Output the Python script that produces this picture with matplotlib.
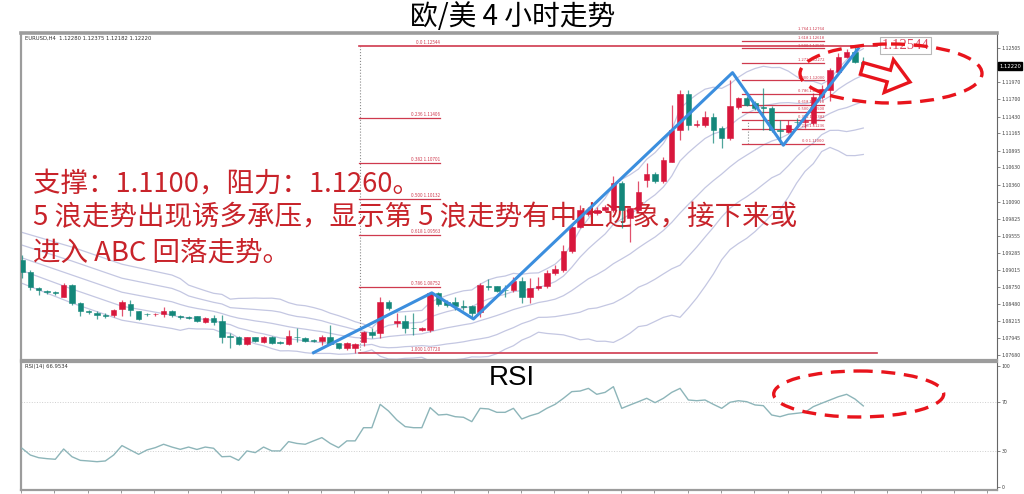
import numpy as np
import pandas as pd
import matplotlib
matplotlib.use("Agg")
import matplotlib.pyplot as plt
from matplotlib.patches import Ellipse, Polygon

plt.rcParams['font.family'] = ['Noto Sans CJK SC', 'DejaVu Sans']

# ---- data (EURUSD H4) ----
opens = [1.0918, 1.0899, 1.0874, 1.0869, 1.0867, 1.0860, 1.0878, 1.0850, 1.0837, 1.0835,
         1.0831, 1.0831, 1.0841, 1.0849, 1.0837, 1.0833, 1.0832, 1.0833, 1.0838, 1.0829,
         1.0828, 1.0829, 1.0820, 1.0826, 1.0822, 1.0798, 1.0797, 1.0786, 1.0796, 1.0788,
         1.0797, 1.0788, 1.0786, 1.0797, 1.0795, 1.0792, 1.0791, 1.0797, 1.0787, 1.0779,
         1.0779, 1.0788, 1.0805, 1.0803, 1.0852, 1.0818, 1.0822, 1.0811, 1.0808, 1.0808,
         1.0865, 1.0852, 1.0852, 1.0845, 1.0845, 1.0836, 1.0876, 1.0876, 1.0871, 1.0871,
         1.0884, 1.0860, 1.0873, 1.0876, 1.0897, 1.0902, 1.0931, 1.0970, 1.0990, 1.0991,
         1.0996, 1.0996, 1.1038, 1.0983, 1.0996, 1.1044, 1.1053, 1.1041, 1.1072, 1.1122,
         1.1179, 1.1130, 1.1130, 1.1143, 1.1125, 1.1109, 1.1158, 1.1172, 1.1165, 1.1158,
         1.1156, 1.1122, 1.1119, 1.1135, 1.1135, 1.1133, 1.1174, 1.1185, 1.1213, 1.1237,
         1.1245, 1.1228]
highs = [1.0926, 1.0902, 1.0875, 1.0871, 1.0869, 1.0882, 1.0880, 1.0852, 1.0839, 1.0838,
         1.0834, 1.0841, 1.0855, 1.0855, 1.0838, 1.0834, 1.0835, 1.0844, 1.0839, 1.0831,
         1.0830, 1.0830, 1.0828, 1.0831, 1.0831, 1.0803, 1.0798, 1.0797, 1.0797, 1.0798,
         1.0798, 1.0790, 1.0808, 1.0811, 1.0797, 1.0794, 1.0800, 1.0816, 1.0787, 1.0789,
         1.0787, 1.0806, 1.0811, 1.0859, 1.0855, 1.0834, 1.0831, 1.0834, 1.0812, 1.0867,
         1.0867, 1.0855, 1.0859, 1.0855, 1.0847, 1.0882, 1.0888, 1.0877, 1.0878, 1.0891,
         1.0891, 1.0889, 1.0891, 1.0902, 1.0910, 1.0941, 1.0976, 1.1004, 1.1001, 1.1001,
         1.1004, 1.1049, 1.1041, 1.1001, 1.1041, 1.1070, 1.1056, 1.1080, 1.1161, 1.1185,
         1.1185, 1.1138, 1.1151, 1.1149, 1.1128, 1.1200, 1.1174, 1.1175, 1.1167, 1.1188,
         1.1160, 1.1138, 1.1138, 1.1141, 1.1146, 1.1180, 1.1192, 1.1220, 1.1243, 1.1249,
         1.1254, 1.1237]
lows = [1.0889, 1.0871, 1.0863, 1.0864, 1.0863, 1.0859, 1.0847, 1.0830, 1.0833, 1.0825,
        1.0827, 1.0828, 1.0830, 1.0830, 1.0823, 1.0830, 1.0830, 1.0828, 1.0828, 1.0825,
        1.0825, 1.0820, 1.0819, 1.0816, 1.0787, 1.0779, 1.0784, 1.0784, 1.0789, 1.0787,
        1.0786, 1.0786, 1.0784, 1.0789, 1.0789, 1.0789, 1.0784, 1.0784, 1.0778, 1.0776,
        1.0772, 1.0783, 1.0795, 1.0795, 1.0839, 1.0812, 1.0803, 1.0800, 1.0806, 1.0805,
        1.0845, 1.0844, 1.0839, 1.0839, 1.0828, 1.0828, 1.0871, 1.0868, 1.0859, 1.0867,
        1.0850, 1.0850, 1.0871, 1.0874, 1.0894, 1.0899, 1.0929, 1.0968, 1.0987, 1.0988,
        1.0993, 1.0993, 1.0968, 1.0946, 1.0993, 1.1033, 1.1039, 1.1039, 1.1071, 1.1106,
        1.1122, 1.1126, 1.1126, 1.1102, 1.1093, 1.1106, 1.1155, 1.1160, 1.1153, 1.1122,
        1.1119, 1.1100, 1.1117, 1.1125, 1.1125, 1.1130, 1.1171, 1.1167, 1.1211, 1.1235,
        1.1227, 1.1218]
closes = [1.0899, 1.0875, 1.0870, 1.0867, 1.0866, 1.0878, 1.0850, 1.0837, 1.0836, 1.0831,
          1.0830, 1.0839, 1.0851, 1.0839, 1.0825, 1.0832, 1.0833, 1.0838, 1.0831, 1.0828,
          1.0827, 1.0822, 1.0826, 1.0820, 1.0797, 1.0797, 1.0786, 1.0796, 1.0790, 1.0797,
          1.0787, 1.0787, 1.0798, 1.0796, 1.0790, 1.0791, 1.0797, 1.0786, 1.0779, 1.0787,
          1.0786, 1.0804, 1.0800, 1.0852, 1.0842, 1.0822, 1.0810, 1.0810, 1.0810, 1.0865,
          1.0849, 1.0847, 1.0845, 1.0844, 1.0834, 1.0878, 1.0875, 1.0869, 1.0870, 1.0884,
          1.0860, 1.0873, 1.0877, 1.0897, 1.0903, 1.0931, 1.0970, 1.0996, 1.0996, 1.0996,
          1.1001, 1.1038, 1.0996, 1.0999, 1.1025, 1.1053, 1.1041, 1.1075, 1.1122, 1.1179,
          1.1130, 1.1131, 1.1143, 1.1122, 1.1109, 1.1159, 1.1172, 1.1161, 1.1156, 1.1157,
          1.1122, 1.1121, 1.1130, 1.1134, 1.1136, 1.1174, 1.1186, 1.1216, 1.1237, 1.1245,
          1.1229, 1.1222]
rsi = [32, 26.4, 24.2, 23.4, 22.9, 31.4, 25, 22, 21.5, 20.9,
       21.5, 26.4, 34.2, 30.6, 27, 30.6, 32.5, 35.3, 33, 31.1,
       33, 31, 33, 32, 25, 25.3, 22, 29.8, 28.4, 33,
       29.8, 29.8, 37.5, 36, 35.3, 38.1, 40.8, 36, 32.5, 38.1,
       38.1, 49, 49, 68.3, 62.8, 55.4, 49.9, 49, 49, 65.6,
       59.5, 60, 58.1, 57.6, 54, 65, 64.5, 61.7, 61.7, 65,
       56.2, 58.9, 60.9, 65, 68.3, 73.3, 78.8, 79.3, 81.5, 76.6,
       78.2, 82.9, 65, 67.8, 70.5, 73.3, 69.7, 73.3, 78.2, 81.5,
       71.9, 71.3, 71.9, 68.3, 65, 70, 71.3, 70.5, 67.8, 67.2,
       59.5, 58.1, 60.1, 60.9, 61.7, 66.4, 69.2, 71.9, 74.6, 76.6,
       72.7, 67]

# Bollinger bands before a full 20-bar window is on screen
bb_early_idx = [0, 6, 12, 18]
bb_early_mid = [1.0921, 1.0894, 1.0867, 1.0852]
bb_early_sd = [0.0020, 0.0022, 0.0022, 0.0021]

# Elliott wave 0-1-2-3-4-5
wave_idx = [35, 49.2, 54.2, 85.3, 91.4, 100.4]
wave_px = [1.0772, 1.0866, 1.0825, 1.1212, 1.1098, 1.1250]

# fibonacci retracement (whole move) and extension (wave 3 -> 4)
fib1_low, fib1_high = 1.07720, 1.12544
fib1_ratios = [0.0, 0.236, 0.382, 0.5, 0.618, 0.786, 1.0]
fib1_names = ['0.0', '0.236', '0.382', '0.500', '0.618', '0.786', '1.000']
fib2_low, fib2_high = 1.1100, 1.1200
fib2_ratios = [0.0, 0.236, 0.382, 0.5, 0.618, 0.786, 1.0, 1.272, 1.5, 1.618, 1.764]
fib2_names = ['0.0', '0.236', '0.382', '0.500', '0.618', '0.786', '1.000',
              '1.272', '1.500', '1.618', '1.764']

price_ticks = [1.12505, 1.11970, 1.11700, 1.11430, 1.11165, 1.10895, 1.10630, 1.10360,
               1.10090, 1.09825, 1.09555, 1.09285, 1.09015, 1.08750, 1.08480, 1.08215,
               1.07945, 1.07680]
rsi_ticks = [0, 30, 70, 100]
last_price = 1.12220
marker_price = 1.12544
header = "EURUSD,H4  1.12280 1.12375 1.12182 1.12220"
rsi_header = "RSI(14) 66.9534"
title = "欧/美 4 小时走势"
notes = ["支撑：1.1100，阻力：1.1260。",
         "5 浪走势出现诱多承压，显示第 5 浪走势有中止迹象，接下来或",
         "进入 ABC 回落走势。"]

# ---- figure ----
W, H = 1024, 494
fig = plt.figure(figsize=(W / 100, H / 100), dpi=100)


def box(x0, y0, x1, y1):
    return [x0 / W, 1 - y1 / H, (x1 - x0) / W, (y1 - y0) / H]


ax = fig.add_axes(box(21, 33, 997, 360))
ar = fig.add_axes(box(21, 362, 997, 490))
ov = fig.add_axes([0, 0, 1, 1], zorder=10)
ov.set_xlim(0, W)
ov.set_ylim(H, 0)
ov.axis('off')
ov.patch.set_alpha(0)

n = len(closes)
idx = np.arange(n)
o = np.array(opens); h = np.array(highs); l = np.array(lows); c = np.array(closes)
UP, DOWN = '#d8173c', '#14877a'
cols = np.where(c >= o, UP, DOWN)

# bollinger bands (20, 1) and (20, 2)
cs = pd.Series(closes)
mid = cs.rolling(20).mean().to_numpy()
sd = cs.rolling(20).std(ddof=0).to_numpy()
bx = np.r_[bb_early_idx, idx[19:]]
bm = np.r_[bb_early_mid, mid[19:]]
bs = np.r_[bb_early_sd, sd[19:]]
for k in (-2, -1, 0, 1, 2):
    ax.plot(bx, bm + k * bs, color='#c4c7e2', lw=0.9, zorder=1)

# candles
ax.vlines(idx, l, h, colors=cols, lw=0.9, alpha=0.75, zorder=3)
body_lo = np.minimum(o, c)
body_h = np.maximum(np.abs(c - o), 0.00008)
ax.bar(idx, body_h, bottom=body_lo, width=0.66, color=cols, edgecolor=cols, lw=0.4, zorder=3)

# fibonacci retracement
FIBC = '#cf3a4e'
for r, name in zip(fib1_ratios, fib1_names):
    p = fib1_high - r * (fib1_high - fib1_low)
    x1 = 102.6 if r in (0.0, 1.0) else 50.2
    ax.plot([40.4, x1], [p, p], color=FIBC, lw=1.2 if r in (0.0, 1.0) else 0.9, zorder=1.2)
    ax.text(50.2, p + 0.00015, f"{name} {p:.5f}", ha='right', va='bottom',
            fontsize=3.3, color=FIBC, zorder=1.2)
ax.plot([40.6, 40.6], [fib1_low, fib1_high], ls=':', color='#8a8a8a', lw=0.8, zorder=1.1)

# fibonacci extension
for r, name in zip(fib2_ratios, fib2_names):
    p = fib2_low + r * (fib2_high - fib2_low)
    ax.plot([86.4, 96.3], [p, p], color=FIBC, lw=0.9, zorder=1.2)
    ax.text(96.3, p + 0.00012, f"{name} {p:.5f}", ha='right', va='bottom',
            fontsize=3.0, color=FIBC, zorder=1.2)
ax.plot([87.2, 87.2], [fib2_low, fib2_low + 0.382 * (fib2_high - fib2_low)],
        ls=':', color='#8a8a8a', lw=0.8, zorder=1.1)

# wave count line
ax.plot(wave_idx, wave_px, color='#3b8ede', lw=2.2, zorder=4)

# price marker label
ax.text(106.1, marker_price, "1.12544", ha='center', va='center', fontsize=10.5,
        family=['Liberation Serif'], color='#dc4a62', zorder=5,
        bbox=dict(boxstyle='square,pad=0.12', fc='white', ec='#b8b8b8', lw=0.8))

# analyst notes (under the candles)
for txt, y in zip(notes, [184, 218, 254]):
    ax.text(33, y, txt, transform=ov.transData, ha='left', va='center',
            fontsize=19.8, color='#c8232a', zorder=2.5, clip_on=False)

ax.set_xlim(-0.12, 117.05)
ax.set_ylim(1.07605, 1.12743)
ax.set_xticks([])
ax.yaxis.tick_right()
ax.set_yticks(price_ticks)
ax.set_yticklabels([f"{v:.5f}" for v in price_ticks])
ax.tick_params(axis='y', length=2, width=0.5, pad=1.5, labelsize=3.8,
               colors='#555555', labelcolor='#444444')
ax.text(0.004, 0.992, header, transform=ax.transAxes, fontsize=3.8, va='top',
        family=['DejaVu Sans'], color='#333333')
ax.text(1.002, last_price, f"{last_price:.5f}", transform=ax.get_yaxis_transform(),
        fontsize=3.8, va='center', ha='left', color='white', family=['DejaVu Sans'],
        bbox=dict(boxstyle='square,pad=0.25', fc='black', ec='black'), clip_on=False)

# RSI panel
ar.plot(idx, rsi, color='#8db5b9', lw=1.0, zorder=3)
for lv in (70, 30):
    ar.axhline(lv, color='#cfcfcf', lw=0.7, ls=':', zorder=1)
ar.set_xlim(-0.12, 117.05)
ar.set_ylim(-2.5, 103.3)
ar.yaxis.tick_right()
ar.set_yticks(rsi_ticks)
ar.set_yticklabels([str(t) for t in rsi_ticks])
ar.tick_params(axis='y', length=2, width=0.5, pad=1.5, labelsize=3.8,
               colors='#555555', labelcolor='#444444')
ar.set_xticks(np.arange(0, 117, 4) - 0.1)
ar.set_xticklabels([])
ar.tick_params(axis='x', length=2.5, width=0.6, colors='#888888')
ar.text(0.004, 0.985, rsi_header, transform=ar.transAxes, fontsize=3.8, va='top',
        family=['DejaVu Sans'], color='#333333')

for a in (ax, ar):
    for s in a.spines.values():
        s.set_color('#9c9c9c')
        s.set_linewidth(1.6)
    a.spines['right'].set_color('#666666')
    a.spines['right'].set_linewidth(0.8)
ax.spines['top'].set_linewidth(2.6)

# overlays: title, RSI label, red ellipses and arrow
ov.text(513, 17, title, ha='center', va='center', fontsize=20, color='black')
ov.text(512, 378, "RSI", ha='center', va='center', fontsize=20,
        family=['Liberation Sans'], color='black')

RED = '#e8141c'
for (cx, cy, ew, eh) in [(891, 73.5, 182, 59), (858.7, 394, 170, 46)]:
    ov.add_patch(Ellipse((cx, cy), ew, eh, fill=False, ec=RED, lw=2.4,
                         ls=(0, (4.2, 2.6))))

tail = np.array([862.0, 68.5])
tip = np.array([910.0, 82.0])
u = (tip - tail) / np.linalg.norm(tip - tail)
nrm = np.array([-u[1], u[0]])
base = tip - 22 * u
pts = [tail + 6 * nrm, base + 6 * nrm, base + 17 * nrm, tip,
       base - 17 * nrm, base - 6 * nrm, tail - 6 * nrm]
ov.add_patch(Polygon(pts, closed=True, fc='white', ec=RED, lw=2.4, joinstyle='miter'))

fig.savefig("out.png", dpi=100)
